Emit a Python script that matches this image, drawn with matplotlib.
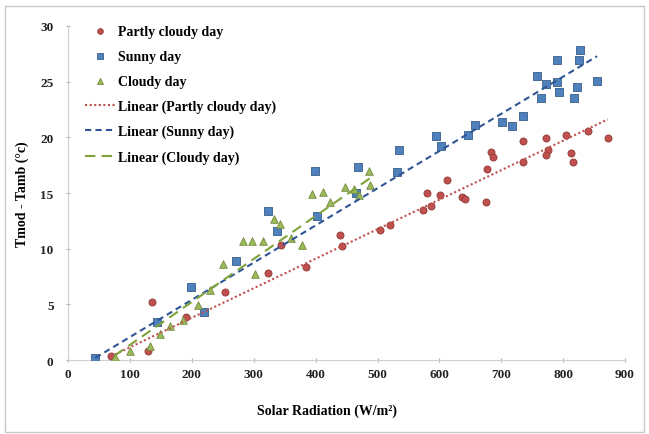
import numpy as np
import matplotlib
matplotlib.use('Agg')
import matplotlib.pyplot as plt
from matplotlib.patches import Rectangle

# solar radiation (W/m2) vs module temperature rise (C)
partly_x = [69, 129, 136, 190, 254, 323, 344, 385, 439, 442, 504, 520, 573, 580, 586,
            601, 613, 636, 641, 675, 677, 683, 687, 735, 735, 773, 776, 773, 804, 813,
            816, 840, 872]
partly_y = [0.4, 0.8, 5.2, 3.9, 6.1, 7.8, 10.3, 8.4, 11.2, 10.2, 11.7, 12.1, 13.5, 15.0, 13.8,
            14.8, 16.2, 14.6, 14.5, 14.2, 17.2, 18.7, 18.2, 19.7, 17.8, 19.9, 18.9, 18.4, 20.2, 18.6,
            17.8, 20.6, 19.9]

sunny_x = [44, 144, 199, 220, 271, 323, 337, 399, 402, 465, 469, 532, 535, 595, 603,
           646, 658, 702, 717, 735, 758, 764, 773, 790, 790, 793, 818, 822, 826, 827, 855]
sunny_y = [0.2, 3.4, 6.6, 4.3, 8.9, 13.4, 11.6, 17.0, 12.9, 15.0, 17.3, 16.9, 18.9, 20.1, 19.2,
           20.2, 21.1, 21.4, 21.0, 21.9, 25.5, 23.5, 24.8, 26.9, 25.0, 24.1, 23.5, 24.5, 26.9, 27.8, 25.1]

cloudy_x = [75, 100, 132, 149, 165, 185, 210, 230, 250, 283, 297, 315, 302, 333, 342,
            360, 378, 394, 412, 423, 447, 462, 470, 488, 486]
cloudy_y = [0.3, 0.8, 1.3, 2.3, 3.1, 3.6, 4.9, 6.3, 8.6, 10.7, 10.7, 10.7, 7.7, 12.7, 12.2,
            11.0, 10.3, 14.9, 15.1, 14.2, 15.5, 15.4, 14.8, 15.7, 17.0]

# linear trendlines (slope, intercept): partly cloudy, sunny, cloudy
trend_slope = [0.0265, 0.0334, 0.0386]
trend_icept = [-1.5, -1.27, -2.5]

plt.rcParams['font.family'] = ['Liberation Serif', 'DejaVu Serif']
plt.rcParams['font.weight'] = 'bold'

fig = plt.figure(figsize=(6.49, 4.35), dpi=100)
ax = fig.add_axes([0.105, 0.170, 0.858, 0.768])

red, blue, green = '#C0504D', '#4F81BD', '#9BBB59'

ax.scatter(partly_x, partly_y, s=26, marker='o', color=red, edgecolors='#8f3a38',
           linewidths=0.6, label='Partly cloudy day', zorder=3)
ax.scatter(sunny_x, sunny_y, s=26, marker='s', color=blue, edgecolors='#385d8a',
           linewidths=0.6, label='Sunny day', zorder=3)
ax.scatter(cloudy_x, cloudy_y, s=30, marker='^', color=green, edgecolors='#71893f',
           linewidths=0.6, label='Cloudy day', zorder=3)

series_x = [partly_x, sunny_x, cloudy_x]
styles = [(red, (0, (1, 1.2)), 'Linear (Partly cloudy day)'),
          ('#2f5597', (0, (3, 2)), 'Linear (Sunny day)'),
          ('#7fa23a', (0, (5, 3)), 'Linear (Cloudy day)')]
for xs, k, b, (c, ls, lab) in zip(series_x, trend_slope, trend_icept, styles):
    xx = np.array([min(xs), max(xs)])
    ax.plot(xx, k * xx + b, color=c, linestyle=ls, lw=1.5, label=lab, zorder=4)

ax.set_xlim(0, 900)
ax.set_ylim(0, 30)
ax.set_xticks(range(0, 901, 100))
ax.set_yticks(range(0, 31, 5))
for s in ['top', 'right']:
    ax.spines[s].set_visible(False)
for s in ['left', 'bottom']:
    ax.spines[s].set_color('#d0d0d0')
ax.tick_params(axis='both', colors='#b0b0b0', labelcolor='#222222', labelsize=9.5, length=3)
ax.tick_params(axis='x', direction='inout', pad=4)
ax.tick_params(axis='y', direction='inout', pad=9)
for t in ax.get_xticklabels() + ax.get_yticklabels():
    t.set_fontweight('bold')

ax.set_xlabel('Solar Radiation (W/m²)', fontsize=10, fontweight='bold')
ax.set_ylabel('Tmod - Tamb (°c)', fontsize=10, fontweight='bold')
ax.xaxis.set_label_coords(0.465, -0.13)
ax.yaxis.set_label_coords(-0.07, 0.5)

ax.legend(loc='upper left', bbox_to_anchor=(0.008, 1.04), frameon=False,
          prop={'size': 10, 'weight': 'bold'},
          labelspacing=0.85, handlelength=2.2, handletextpad=0.2, scatterpoints=1,
          markerscale=0.8)

fig.patches.append(Rectangle((0.008, 0.005), 0.985, 0.98, transform=fig.transFigure,
                             fill=False, edgecolor='#c8c8c8', lw=1))

fig.savefig('out.png', dpi=100)
